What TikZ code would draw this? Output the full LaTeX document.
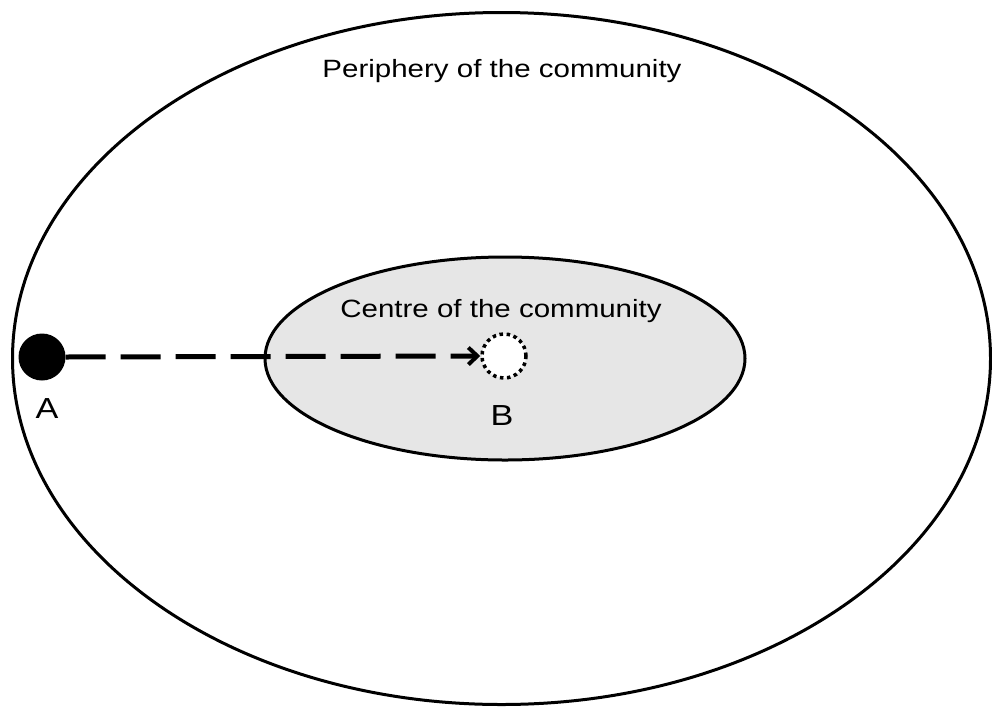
\documentclass[tikz,border=0pt]{standalone}
\usepackage{fontspec}
\setmainfont{Liberation Sans}[FakeStretch=1.18]
\usetikzlibrary{shapes.geometric,arrows.meta}
\definecolor{centrefill}{RGB}{230,230,230}
\tikzset{
  region/.style={ellipse, draw=black, line width=3pt, inner sep=0pt},
  caption/.style={anchor=base, inner sep=0pt, font=\fontsize{25}{30}\selectfont},
  letter/.style={anchor=base, inner sep=0pt, font=\fontsize{29}{34}\selectfont},
  startdot/.style={circle, fill=black, minimum size=47pt, inner sep=0pt},
  targetdot/.style={circle, draw=black, fill=white, line width=3.5pt,
    dash pattern=on 3.5pt off 3.6pt, minimum size=44pt, inner sep=0pt},
  flow/.style={line width=5pt, dash pattern=on 40pt off 15pt,
    -{Straight Barb[length=9pt,width=17pt,line width=4pt]}}
}
\begin{document}
\begin{tikzpicture}[x=1pt,y=-1pt]
  \useasboundingbox (0,0) rectangle (992,707);
  % outer region and inner core
  \node[region, minimum width=978pt, minimum height=692pt] (periphery) at (501.5,358.5) {};
  \node[region, fill=centrefill, minimum width=480pt, minimum height=203pt] (centre) at (505,358.5) {};
  % labels of the two regions
  \node[caption] (ptext) at (502,77) {Periphery of the community};
  \node[caption] (ctext) at (501,317) {Centre of the community};
  % moving member: from A at the edge towards B in the core
  \node[startdot] (A) at (42,357) {};
  \node[targetdot] (B) at (504,356) {};
  \draw[flow] (A.east) -- (B.west);
  \node[letter] (Alabel) at (47,418) {A};
  \node[letter] (Blabel) at (502,425) {B};
\end{tikzpicture}
\end{document}
